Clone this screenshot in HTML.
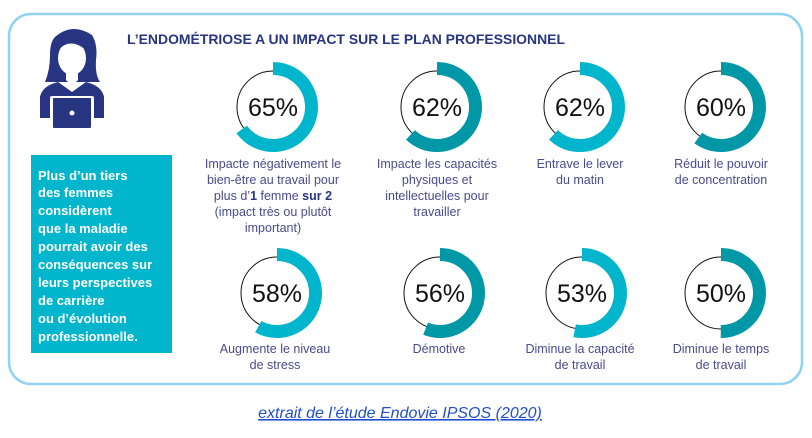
<!DOCTYPE html>
<html><head><meta charset="utf-8"><style>
body{margin:0;width:812px;height:433px;background:#fff;overflow:hidden;font-family:"Liberation Sans",sans-serif;}
</style></head><body>
<svg width="812" height="433" xmlns="http://www.w3.org/2000/svg" font-family="Liberation Sans, sans-serif">
<rect x="9" y="14" width="793" height="370" rx="22" fill="#fff" stroke="#8fd3f2" stroke-width="2.5"/>
<text x="127" y="44" font-size="14" font-weight="bold" fill="#273582" textLength="438" lengthAdjust="spacingAndGlyphs">L’ENDOMÉTRIOSE A UN IMPACT SUR LE PLAN PROFESSIONNEL</text>
<g fill="#273582">
<path d="M55 37 Q72 22 92 35 Q98 45 96 60 Q95 75 100 82 L86 82 L58 82 L45 82 Q50 70 50 55 Q50 42 55 37Z"/>
<ellipse cx="72" cy="58" rx="14" ry="17" fill="#fff"/>
<path d="M60 48 Q72 38 86 50 Q84 40 72 40 Q62 40 60 48Z"/>
<path d="M66 73 L66 80 L72 86 L78 80 L78 73Z" fill="#fff"/>
<path d="M40 118 L40 97 Q42 86 58 82 L72 92 L86 82 Q102 86 104 97 L104 118Z"/>
<rect x="50" y="96" width="44" height="32" rx="2" fill="#fff"/>
<rect x="53" y="98" width="38" height="30" rx="1"/>
<circle cx="72" cy="113" r="2.5" fill="#fff"/>
</g>
<rect x="31" y="155" width="141" height="198" fill="#00b5cc"/>
<g fill="#fff" font-size="13" font-weight="bold">
<text x="38" y="180">Plus d’un tiers</text>
<text x="38" y="197">des femmes</text>
<text x="38" y="215">considèrent</text>
<text x="38" y="233">que la maladie</text>
<text x="38" y="251">pourrait avoir des</text>
<text x="38" y="269">conséquences sur</text>
<text x="38" y="287">leurs perspectives</text>
<text x="38" y="305">de carrière</text>
<text x="38" y="323">ou d’évolution</text>
<text x="38" y="341">professionnelle.</text>
</g>
<g fill="none" stroke="#111" stroke-width="1">
<circle cx="273" cy="107" r="36"/><circle cx="437" cy="107" r="36"/><circle cx="580" cy="107" r="36"/><circle cx="721" cy="107" r="36"/>
<circle cx="277" cy="293" r="36"/><circle cx="440" cy="293" r="36"/><circle cx="582" cy="293" r="36"/><circle cx="721" cy="293" r="36"/>
</g>
<g fill="none" stroke-width="13">
<circle cx="273" cy="107" r="38.5" stroke="#00b5cc" stroke-dasharray="157.2 300" transform="rotate(-90 273 107)"/>
<circle cx="437" cy="107" r="38.5" stroke="#0098a6" stroke-dasharray="150 300" transform="rotate(-90 437 107)"/>
<circle cx="580" cy="107" r="38.5" stroke="#00b5cc" stroke-dasharray="150 300" transform="rotate(-90 580 107)"/>
<circle cx="721" cy="107" r="38.5" stroke="#0098a6" stroke-dasharray="145.1 300" transform="rotate(-90 721 107)"/>
<circle cx="277" cy="293" r="38.5" stroke="#00b5cc" stroke-dasharray="140.3 300" transform="rotate(-90 277 293)"/>
<circle cx="440" cy="293" r="38.5" stroke="#0098a6" stroke-dasharray="135.5 300" transform="rotate(-90 440 293)"/>
<circle cx="582" cy="293" r="38.5" stroke="#00b5cc" stroke-dasharray="128.2 300" transform="rotate(-90 582 293)"/>
<circle cx="721" cy="293" r="38.5" stroke="#0098a6" stroke-dasharray="121 300" transform="rotate(-90 721 293)"/>
</g>
<g font-size="25" text-anchor="middle" fill="#111">
<text x="273" y="116">65%</text><text x="437" y="116">62%</text><text x="580" y="116">62%</text><text x="721" y="116">60%</text>
<text x="277" y="302">58%</text><text x="440" y="302">56%</text><text x="582" y="302">53%</text><text x="721" y="302">50%</text>
</g>
<g fill="#4a4a8e" font-size="12.5" text-anchor="middle">
<text x="273" y="168">Impacte négativement le</text>
<text x="273" y="184">bien-être au travail pour</text>
<text x="273" y="200">plus d’<tspan font-weight="bold" fill="#273582">1</tspan> femme <tspan font-weight="bold" fill="#273582">sur 2</tspan></text>
<text x="273" y="216">(impact très ou plutôt</text>
<text x="273" y="232">important)</text>
<text x="437" y="168">Impacte les capacités</text>
<text x="437" y="184">physiques et</text>
<text x="437" y="200">intellectuelles pour</text>
<text x="437" y="216">travailler</text>
<text x="580" y="168">Entrave le lever</text>
<text x="580" y="184">du matin</text>
<text x="721" y="168">Réduit le pouvoir</text>
<text x="721" y="184">de concentration</text>
<text x="275" y="353">Augmente le niveau</text>
<text x="275" y="369">de stress</text>
<text x="439" y="353">Démotive</text>
<text x="580" y="353">Diminue la capacité</text>
<text x="580" y="369">de travail</text>
<text x="721" y="353">Diminue le temps</text>
<text x="721" y="369">de travail</text>
</g>
<text x="400" y="418" font-size="16" font-style="italic" fill="#1f4fcf" text-anchor="middle" text-decoration="underline">extrait de l’étude Endovie IPSOS (2020)</text>
</svg>
</body></html>
